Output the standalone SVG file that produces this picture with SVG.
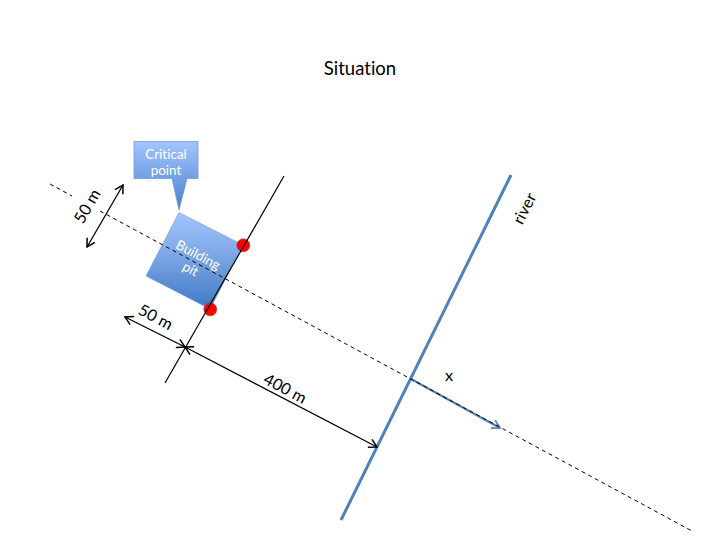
<svg xmlns="http://www.w3.org/2000/svg" width="720" height="540" viewBox="0 0 720 540">
<style>
text{font-family:Lato,"Liberation Sans",sans-serif;font-size:16.200px;fill:#000;text-anchor:middle;font-variant-ligatures:none}
.w{fill:#fff;font-size:13.500px}
.b{fill:none;stroke:#000;stroke-width:1.200}
.h{fill:none;stroke:#000;stroke-width:1.300}
</style>
<defs>
<linearGradient id="g" x1="0" y1="0" x2="0" y2="1"><stop offset="0" stop-color="#a3c4ff"/><stop offset="0.35" stop-color="#86aeea"/><stop offset="1" stop-color="#3f78c4"/></linearGradient>
<linearGradient id="c" x1="0" y1="0" x2="0" y2="1"><stop offset="0" stop-color="#a3c4ff"/><stop offset="1" stop-color="#4a80cc"/></linearGradient>
<marker id="a" viewBox="0 0 12 12" refX="11" refY="6" markerWidth="12" markerHeight="12" markerUnits="userSpaceOnUse" orient="auto-start-reverse"><path d="M3 1.500L11 6L3 10.500" fill="none" stroke="#000" stroke-width="1.500"/></marker>
<marker id="u" viewBox="0 0 12 12" refX="11" refY="6" markerWidth="12" markerHeight="12" markerUnits="userSpaceOnUse" orient="auto"><path d="M3 1.500L11 6L3 10.500" fill="none" stroke="#4f81bd" stroke-width="1.600"/></marker>
</defs>
<text x="360" y="75" style="font-size:18.500px">Situation</text>
<g id="critical-point">
<path d="M134 141.500H198V178.500H187L179 210L172 178.500H134Z" fill="url(#c)" stroke="#6f9bd8" stroke-width="0.800"/>
<text class="w" x="166" y="159">Critical</text>
<text class="w" x="166" y="175">point</text>
</g>
<g id="building-pit">
<path d="M179 212.500L243 245L210 309L146 276Z" fill="url(#g)" stroke="#6f9bd8" stroke-width="0.600"/>
<g transform="translate(196 259) rotate(28)"><text class="w" x="0" y="0">Building</text><text class="w" x="0" y="16">pit</text></g>
</g>
<g id="critical-dots">
<circle cx="243.300" cy="245.300" r="6.500" fill="#f00" stroke="#a04050" stroke-width="0.600"/>
<circle cx="210.300" cy="309.300" r="6.500" fill="#f00" stroke="#a04050" stroke-width="0.600"/>
</g>
<g id="connectors">
<path d="M511 175L341 520" fill="none" stroke="#4f81bd" stroke-width="3"/>
<path d="M411 379L500 428" fill="none" stroke="#4f81bd" stroke-width="2" marker-end="url(#u)"/>
<path class="b" d="M50 184L72 196M100 211L692 531" stroke-dasharray="4 3.500" style="stroke-width:1"/>
<path class="b" d="M284 176L165 383"/>
<path class="h" d="M123 185L87 247" marker-start="url(#a)" marker-end="url(#a)"/>
<path class="h" d="M125 317L185 347" marker-start="url(#a)" marker-end="url(#a)"/>
<path class="h" d="M185 347L377 447" marker-start="url(#a)" marker-end="url(#a)"/>
</g>
<g id="labels">
<text transform="translate(92 209) rotate(-60)">50 m</text>
<text transform="translate(153 322) rotate(28)">50 m</text>
<text transform="translate(282.500 393.500) rotate(28)">400 m</text>
<text transform="translate(529.500 211) rotate(-63)">river</text>
<text x="449" y="381">x</text>
</g>
</svg>
